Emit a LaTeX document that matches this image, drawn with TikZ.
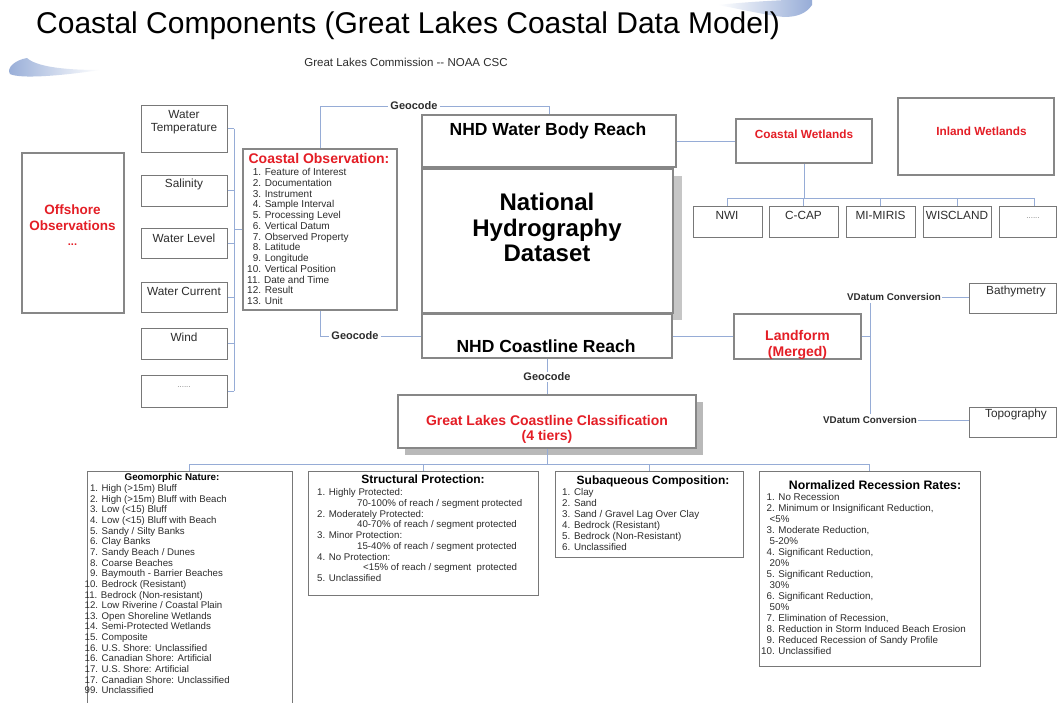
\documentclass[tikz,border=0pt]{standalone}
\usepackage{fontspec}
\setmainfont{Liberation Sans}
\usetikzlibrary{fit,calc}
\definecolor{redt}{RGB}{228,30,38}
\definecolor{connc}{RGB}{150,172,214}
\definecolor{thickg}{RGB}{135,135,135}
\definecolor{thing}{RGB}{120,120,120}
\definecolor{txtc}{RGB}{45,45,45}
\definecolor{swoosh}{RGB}{150,172,215}
\newcommand\fsz[2]{\fontsize{#1}{#2}\selectfont}
\begin{document}
\begin{tikzpicture}[x=1pt,y=-1pt,
  thickbox/.style={draw=thickg,line width=2.6pt,fill=white,inner sep=0pt},
  thinbox/.style={draw=thing,line width=1pt,fill=white,inner sep=0pt},
  cline/.style={draw=connc,line width=1pt},
  lbl/.style={inner sep=0pt,text=txtc,align=center,font=\fsz{11.8}{13}},
  redlbl/.style={inner sep=0pt,text=redt,align=center},
  geolbl/.style={inner xsep=2pt,inner ysep=1pt,text=txtc,font=\bfseries\fsz{11}{13}},
  vdlbl/.style={inner xsep=1pt,inner ysep=2pt,text=txtc,font=\bfseries\fsz{9.8}{11}},
  listtxt/.style={inner sep=0pt,anchor=north west,align=left,text=txtc},
  headtxt/.style={inner sep=0pt,text=black,font=\bfseries\fsz{12}{14}},
  dotstxt/.style={inner sep=0pt,text=gray,font=\fsz{8}{9}}
]
\clip (0,0) rectangle (1059,702);
\fill[white] (0,0) rectangle (1059,702);

% decorative swooshes
\shade[left color=white,right color=swoosh] (718,5) .. controls (745,2) and (780,0) .. (812,-1) -- (812,5) .. controls (806,14) and (796,17) .. (784,17) .. controls (765,15) and (740,9) .. (718,5) -- cycle;
\shade[left color=swoosh,right color=white] (100,70) .. controls (60,70) and (36,66) .. (27,58) .. controls (15,60) and (6,68) .. (10,74) .. controls (20,79) and (60,76) .. (100,70) -- cycle;

% title
\node[anchor=base west,inner sep=0pt,font=\fsz{30}{36}] (title) at (36,33) {Coastal Components (Great Lakes Coastal Data Model)};
\node[inner sep=0pt,font=\fsz{11.5}{13},text=txtc] (subtitle) at (406,62) {Great Lakes Commission -{}- NOAA CSC};

% shadows
\fill[gray!55] (405,402) rectangle (703,455);
\fill[gray!45] (673,176) rectangle (682,320);

% boxes
\node[thickbox,fit={(22,153)(124,313)}] (off) {};
\node[thinbox,fit={(141,105)(227,152)}] (wt) {};
\node[thinbox,fit={(141,175)(227,206)}] (sal) {};
\node[thinbox,fit={(141,228)(227,258)}] (wl) {};
\node[thinbox,fit={(141,282)(227,312)}] (wc) {};
\node[thinbox,fit={(141,328)(227,359)}] (wind) {};
\node[thinbox,fit={(141,375)(227,407)}] (sdots) {};
\node[thickbox,fit={(243,149)(397,310)}] (cobs) {};
\node[thickbox,fit={(422,115)(676,167)}] (nhdwb) {};
\node[thickbox,fit={(422,169)(673,313)}] (nhd) {};
\node[thickbox,fit={(422,314)(672,358)}] (nhdcr) {};
\node[thickbox,fit={(398,395)(696,448)}] (glcc) {};
\node[thickbox,fit={(736,119)(872,163)}] (cw) {};
\node[thickbox,fit={(898,98)(1054,175)}] (iw) {};
\node[thinbox,fit={(693,206)(762,237)}] (nwi) {};
\node[thinbox,fit={(769,206)(838,237)}] (ccap) {};
\node[thinbox,fit={(846,206)(915,237)}] (miris) {};
\node[thinbox,fit={(923,206)(991,237)}] (wisc) {};
\node[thinbox,fit={(999,206)(1056,237)}] (wdots) {};
\node[thickbox,fit={(734,314)(861,359)}] (lf) {};
\node[thinbox,fit={(969,283)(1056,313)}] (bathy) {};
\node[thinbox,fit={(969,407)(1056,437)}] (topo) {};
\node[thinbox,fit={(87,471)(292,706)}] (geo) {};
\node[thinbox,fit={(308,471)(538,595)}] (str) {};
\node[thinbox,fit={(555,471)(743,557)}] (sub) {};
\node[thinbox,fit={(759,471)(980,666)}] (nrr) {};

% connector labels
\node[geolbl] (g1) at (414,106) {Geocode};
\node[geolbl] (g2) at (355,336) {Geocode};
\node[geolbl] (g3) at (547,377) {Geocode};
\node[vdlbl] (v1) at (894,297) {VDatum Conversion};
\node[vdlbl] (v2) at (870,420) {VDatum Conversion};

% connectors: sensors
\coordinate (sbus) at (234,0);
\foreach \n in {wt,sal,wl,wc,wind,sdots}{\draw[cline] (\n.east) -- (\n.east -| sbus);}
\draw[cline] (wt.east -| sbus) -- (sdots.east -| sbus);
\draw[cline] (cobs.west) -- (cobs.west -| sbus);
% geocodes
\draw[cline] (cobs.north) |- (g1.west);
\draw[cline] (g1.east) -| (nhdwb.north);
\draw[cline] (cobs.south) |- (g2.west);
\draw[cline] (g2.east) -- (g2.east -| nhdcr.west);
\draw[cline] (nhdcr.south) -- (g3.north);
\draw[cline] (g3.south) -- (glcc.north);
% wetlands
\draw[cline] (nhdwb.east) -- (nhdwb.east -| cw.west);
\coordinate (wbus) at (0,198);
\coordinate (wdrop) at ([xshift=6.5pt]wdots.north);
\draw[cline] (cw.south) -- (cw.south |- wbus);
\draw[cline] (nwi.north |- wbus) -- (wdrop |- wbus);
\foreach \n in {nwi,ccap,miris,wisc}{\draw[cline] (\n.north |- wbus) -- (\n.north);}
\draw[cline] (wdrop |- wbus) -- (wdrop);
% landform
\draw[cline] (nhdcr.east) -- (nhdcr.east -| lf.west);
\coordinate (vx) at (870,0);
\draw[cline] (lf.east) -- (lf.east -| vx);
\draw[cline] (v1.south -| vx) -- (v2.north);
\draw[cline] (v1.east) -- (v1.east -| bathy.west);
\draw[cline] (v2.east) -- (v2.east -| topo.west);
% classification tiers
\coordinate (bbus) at (0,464);
\draw[cline] (glcc.south) -- (glcc.south |- bbus);
\draw[cline] (geo.north |- bbus) -- (nrr.north |- bbus);
\foreach \n in {geo,str,sub,nrr}{\draw[cline] (\n.north |- bbus) -- (\n.north);}

% texts: left side
\node[redlbl,font=\bfseries\fsz{13.5}{16}] (off-t) at (72.5,218) {Offshore\\Observations};
\node[redlbl,font=\bfseries\fsz{11}{12},anchor=base] (off-d) at (72.5,245) {...};
\node[lbl] (wt-t) at (184,122.5) {Water\\Temperature};
\node[lbl] (sal-t) at (184,184) {Salinity};
\node[lbl] (wl-t) at (184,238) {Water Level};
\node[lbl] (wc-t) at (184,291) {Water Current};
\node[lbl] (wind-t) at (184,337) {Wind};
\node[dotstxt] (sdots-t) at (184,387) {......};

\node[redlbl,font=\bfseries\fsz{14}{16}] (cobs-h) at (319,158) {Coastal Observation:};
\node[listtxt,font=\fsz{10}{10.75}] (cobs-l) at (247,168.3) {\hphantom{1}1. Feature of Interest\\
\hphantom{1}2. Documentation\\
\hphantom{1}3. Instrument\\
\hphantom{1}4. Sample Interval\\
\hphantom{1}5. Processing Level\\
\hphantom{1}6. Vertical Datum\\
\hphantom{1}7. Observed Property\\
\hphantom{1}8. Latitude\\
\hphantom{1}9. Longitude\\
10. Vertical Position\\
11. Date and Time\\
12. Result\\
13. Unit};

% NHD
\node[inner sep=0pt,font=\bfseries\fsz{17.5}{20}] (nhdwb-t) at (548,131) {NHD Water Body Reach};
\node[inner sep=0pt,align=center,font=\bfseries\fsz{24}{25.5}] (nhd-t) at (547,227.5) {National\\Hydrography\\Dataset};
\node[inner sep=0pt,font=\bfseries\fsz{17.5}{20}] (nhdcr-t) at (546,346) {NHD Coastline Reach};
\node[redlbl,font=\bfseries\fsz{14}{15}] (glcc-t) at (547,429.5) {Great Lakes Coastline Classification\\(4 tiers)};

% right side
\node[redlbl,font=\bfseries\fsz{11.8}{13}] (cw-t) at (804,134) {Coastal Wetlands};
\node[redlbl,font=\bfseries\fsz{11.8}{13}] (iw-t) at (981.5,131) {Inland Wetlands};
\node[lbl] (nwi-t) at (727,215) {NWI};
\node[lbl] (ccap-t) at (803.5,215) {C-CAP};
\node[lbl] (miris-t) at (880.5,215) {MI-MIRIS};
\node[lbl] (wisc-t) at (957,215) {WISCLAND};
\node[dotstxt] (wdots-t) at (1033,218) {......};
\node[redlbl,font=\bfseries\fsz{14}{16}] (lf-t) at (797.5,345) {Landform\\(Merged)};
\node[lbl] (bathy-t) at (1016,291) {Bathymetry};
\node[lbl] (topo-t) at (1016,414) {Topography};

% bottom boxes
\node[headtxt,font=\bfseries\fsz{9.8}{11}] (geo-h) at (172,478) {Geomorphic Nature:};
\node[listtxt,font=\fsz{9.65}{10.63}] (geo-l) at (84.5,484.5) {\hphantom{1}1. High (>15m) Bluff\\
\hphantom{1}2. High (>15m) Bluff with Beach\\
\hphantom{1}3. Low (<15) Bluff\\
\hphantom{1}4. Low (<15) Bluff with Beach\\
\hphantom{1}5. Sandy / Silty Banks\\
\hphantom{1}6. Clay Banks\\
\hphantom{1}7. Sandy Beach / Dunes\\
\hphantom{1}8. Coarse Beaches\\
\hphantom{1}9. Baymouth - Barrier Beaches\\
10. Bedrock (Resistant)\\
11. Bedrock (Non-resistant)\\
12. Low Riverine / Coastal Plain\\
13. Open Shoreline Wetlands\\
14. Semi-Protected Wetlands\\
15. Composite\\
16. U.S. Shore: Unclassified\\
16. Canadian Shore: Artificial\\
17. U.S. Shore: Artificial\\
17. Canadian Shore: Unclassified\\
99. Unclassified};

\node[headtxt] (str-h) at (423,479) {Structural Protection:};
\node[listtxt,font=\fsz{9.7}{10.75}] (str-l) at (317,488.4) {1. Highly Protected:\\
\hspace*{40pt}70-100\% of reach / segment protected\\
2. Moderately Protected:\\
\hspace*{40pt}40-70\% of reach / segment protected\\
3. Minor Protection:\\
\hspace*{40pt}15-40\% of reach / segment protected\\
4. No Protection:\\
\hspace*{46pt}<15\% of reach / segment\ \ protected\\
5. Unclassified};

\node[headtxt] (sub-h) at (653,481) {Subaqueous Composition:};
\node[listtxt,font=\fsz{9.8}{11}] (sub-l) at (562,488.4) {1. Clay\\
2. Sand\\
3. Sand / Gravel Lag Over Clay\\
4. Bedrock (Resistant)\\
5. Bedrock (Non-Resistant)\\
6. Unclassified};

\node[headtxt,font=\bfseries\fsz{12.3}{14}] (nrr-h) at (875,485) {Normalized Recession Rates:};
\node[listtxt,font=\fsz{9.8}{10.96}] (nrr-l) at (761,493.4) {\hphantom{1}1. No Recession\\
\hphantom{1}2. Minimum or Insignificant Reduction,\\
\hspace*{8.5pt}<5\%\\
\hphantom{1}3. Moderate Reduction,\\
\hspace*{8.5pt}5-20\%\\
\hphantom{1}4. Significant Reduction,\\
\hspace*{8.5pt}20\%\\
\hphantom{1}5. Significant Reduction,\\
\hspace*{8.5pt}30\%\\
\hphantom{1}6. Significant Reduction,\\
\hspace*{8.5pt}50\%\\
\hphantom{1}7. Elimination of Recession,\\
\hphantom{1}8. Reduction in Storm Induced Beach Erosion\\
\hphantom{1}9. Reduced Recession of Sandy Profile\\
10. Unclassified};
\end{tikzpicture}
\end{document}
